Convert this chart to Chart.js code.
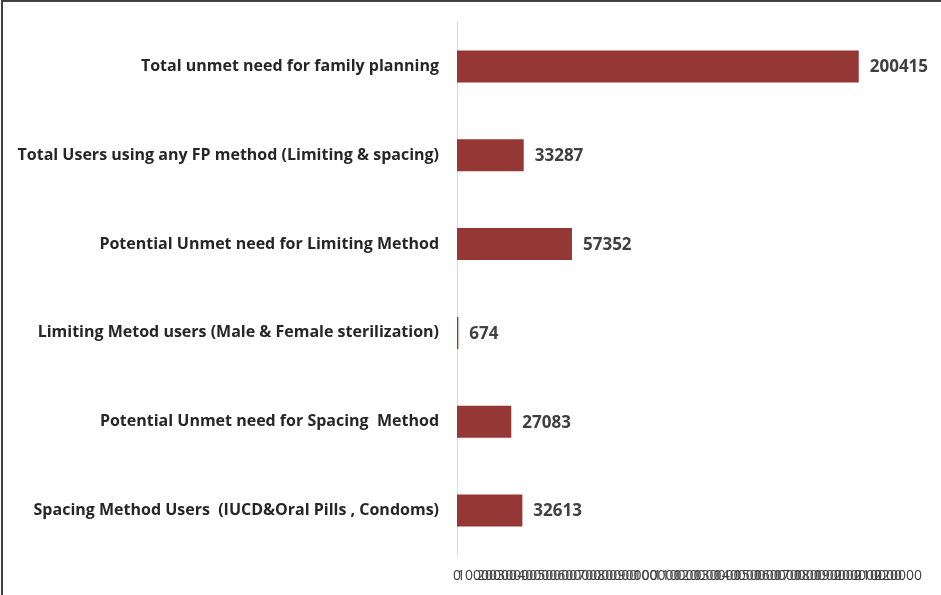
<!DOCTYPE html>
<html><head><meta charset="utf-8">
<script src="https://cdn.jsdelivr.net/npm/chart.js@4"></script>
<style>
html,body{margin:0;padding:0;background:#fff;}
#wrap{position:relative;margin-left:1px;width:940px;height:595px;box-sizing:border-box;border-left:2px solid #404040;border-top:2px solid #404040;}
canvas{display:block;}
</style></head><body>
<div id="wrap"><canvas id="c" width="938" height="593"></canvas></div>
<script>
const categories = [
  "Total unmet need for family planning",
  "Total Users using any FP method (Limiting & spacing)",
  "Potential Unmet need for Limiting Method",
  "Limiting Metod users (Male & Female sterilization)",
  "Potential Unmet need for Spacing  Method",
  "Spacing Method Users  (IUCD&Oral Pills , Condoms)"
];
const values = [200415, 33287, 57352, 674, 27083, 32613];
const axisMin = 0, axisMax = 220000, axisStep = 10000;

const valueLabels = {
  id: 'valueLabels',
  afterDatasetsDraw(chart) {
    const ctx = chart.ctx;
    const meta = chart.getDatasetMeta(0);
    ctx.save();
    ctx.font = 'bold 17px "Open Sans", sans-serif';
    ctx.fillStyle = '#404040';
    ctx.textAlign = 'left';
    ctx.textBaseline = 'middle';
    meta.data.forEach((bar, i) => {
      ctx.fillText(String(values[i]), bar.x + 11, bar.y + 1);
    });
    ctx.restore();
  }
};

new Chart(document.getElementById('c'), {
  type: 'bar',
  data: {
    labels: categories,
    datasets: [{
      data: values,
      backgroundColor: '#953735',
      borderWidth: 0,
      barPercentage: 0.6,
      categoryPercentage: 0.6
    }]
  },
  options: {
    indexAxis: 'y',
    responsive: false,
    animation: false,
    devicePixelRatio: 1,
    layout: { padding: { top: 20, right: 43, bottom: 0, left: 0 } },
    plugins: { legend: { display: false }, tooltip: { enabled: false } },
    scales: {
      x: {
        min: axisMin, max: axisMax,
        border: { display: false },
        grid: { display: false, drawTicks: false },
        ticks: {
          stepSize: axisStep, autoSkip: false, maxRotation: 0, minRotation: 0,
          color: '#404040', font: { family: '"Open Sans", sans-serif', size: 14 },
          padding: 13,
          callback: (v) => String(v)
        },
        afterFit(s) { s.height = 40; s.paddingLeft = 0; s.paddingRight = 0; }
      },
      y: {
        border: { display: true, color: '#d9d9d9', width: 1 },
        grid: { display: false, drawTicks: false },
        ticks: {
          color: '#262626', font: { family: '"Open Sans", sans-serif', size: 16, weight: 'bold' },
          padding: 18
        },
        afterFit(s) { s.width = 454; s.paddingTop = 0; s.paddingBottom = 0; }
      }
    }
  },
  plugins: [valueLabels]
});
</script>
</body></html>
